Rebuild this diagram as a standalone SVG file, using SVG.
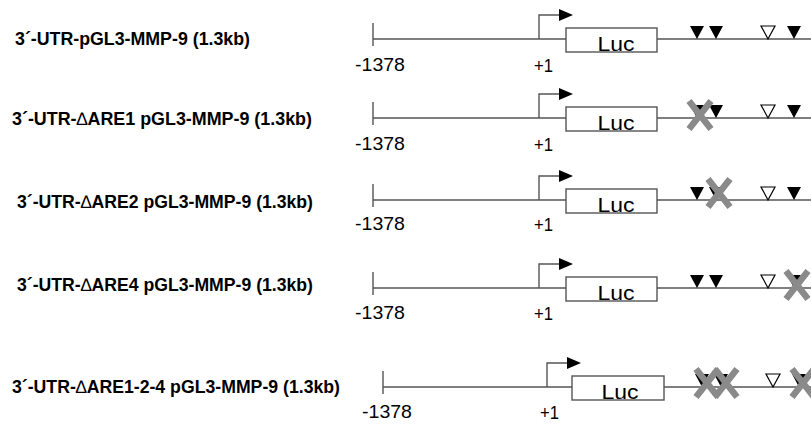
<svg xmlns="http://www.w3.org/2000/svg" width="811" height="424" viewBox="0 0 811 424">
<style>
.lbl{font-family:"Liberation Sans",Arial,sans-serif;font-weight:bold;font-size:18px;fill:#000}
.dl{font-weight:normal}
.num{font-family:"Liberation Sans",Arial,sans-serif;font-size:19px;fill:#000}
.luc{font-family:"Liberation Sans",Arial,sans-serif;font-size:20px;fill:#000;text-anchor:middle}
.ln{stroke:#555;stroke-width:1.4;fill:none}
.box{stroke:#555;stroke-width:1.4;fill:#fff}
.tf{fill:#000}
.to{fill:#fff;stroke:#000;stroke-width:1.2}
.x{stroke:#8a8a8a;stroke-width:6.5;fill:none}
</style>
<defs>
<path id="tri" d="M-7,-13 L7,-13 L0,0 Z"/>
<path id="xx" d="M-11,-14 L11,14 M11,-14 L-11,14"/>
</defs>
<rect width="811" height="424" fill="#fff"/>

<g id="construct1">
<text class="lbl" x="15" y="45" textLength="235" lengthAdjust="spacingAndGlyphs">3´-UTR-pGL3-MMP-9 (1.3kb)</text>
<path class="ln" d="M373,23 V46 M373,39 H811"/>
<path d="M539,39 V15 H560" class="ln"/><polygon points="559,9 573,15 559,21" fill="#000"/>
<rect class="box" x="566" y="28" width="91" height="24"/>
<text class="luc" x="616" y="51" textLength="37" lengthAdjust="spacingAndGlyphs">Luc</text>
<text class="num" x="355" y="71" textLength="50" lengthAdjust="spacingAndGlyphs">-1378</text>
<text class="num" x="534" y="72" textLength="19" lengthAdjust="spacingAndGlyphs">+1</text>
<use href="#tri" class="tf" x="697" y="39"/><use href="#tri" class="tf" x="716" y="39"/>
<use href="#tri" class="to" x="768" y="39"/><use href="#tri" class="tf" x="794" y="39"/>
</g>

<g id="construct2">
<text class="lbl" x="12" y="125" textLength="300" lengthAdjust="spacingAndGlyphs">3´-UTR-<tspan class="dl">∆</tspan>ARE1 pGL3-MMP-9 (1.3kb)</text>
<path class="ln" d="M373,102 V125 M373,118 H811"/>
<path d="M539,118 V94 H560" class="ln"/><polygon points="559,88 573,94 559,100" fill="#000"/>
<rect class="box" x="566" y="107" width="91" height="24"/>
<text class="luc" x="616" y="130" textLength="37" lengthAdjust="spacingAndGlyphs">Luc</text>
<text class="num" x="355" y="150" textLength="50" lengthAdjust="spacingAndGlyphs">-1378</text>
<text class="num" x="534" y="151" textLength="19" lengthAdjust="spacingAndGlyphs">+1</text>
<use href="#tri" class="tf" x="697" y="118"/><use href="#tri" class="tf" x="716" y="118"/>
<use href="#tri" class="to" x="768" y="118"/><use href="#tri" class="tf" x="794" y="118"/>
<use href="#xx" class="x" x="700" y="115"/>
</g>

<g id="construct3">
<text class="lbl" x="17" y="208" textLength="296" lengthAdjust="spacingAndGlyphs">3´-UTR-<tspan class="dl">∆</tspan>ARE2 pGL3-MMP-9 (1.3kb)</text>
<path class="ln" d="M373,184 V207 M373,200 H811"/>
<path d="M539,200 V176 H560" class="ln"/><polygon points="559,170 573,176 559,182" fill="#000"/>
<rect class="box" x="566" y="189" width="91" height="24"/>
<text class="luc" x="616" y="212" textLength="37" lengthAdjust="spacingAndGlyphs">Luc</text>
<text class="num" x="355" y="230" textLength="50" lengthAdjust="spacingAndGlyphs">-1378</text>
<text class="num" x="534" y="231" textLength="19" lengthAdjust="spacingAndGlyphs">+1</text>
<use href="#tri" class="tf" x="697" y="200"/><use href="#tri" class="tf" x="716" y="200"/>
<use href="#tri" class="to" x="768" y="200"/><use href="#tri" class="tf" x="794" y="200"/>
<use href="#xx" class="x" x="719" y="193"/>
</g>

<g id="construct4">
<text class="lbl" x="17" y="291" textLength="296" lengthAdjust="spacingAndGlyphs">3´-UTR-<tspan class="dl">∆</tspan>ARE4 pGL3-MMP-9 (1.3kb)</text>
<path class="ln" d="M373,272 V295 M373,288 H811"/>
<path d="M539,288 V264 H560" class="ln"/><polygon points="559,258 573,264 559,270" fill="#000"/>
<rect class="box" x="566" y="277" width="91" height="24"/>
<text class="luc" x="616" y="300" textLength="37" lengthAdjust="spacingAndGlyphs">Luc</text>
<text class="num" x="355" y="319" textLength="50" lengthAdjust="spacingAndGlyphs">-1378</text>
<text class="num" x="534" y="320" textLength="19" lengthAdjust="spacingAndGlyphs">+1</text>
<use href="#tri" class="tf" x="697" y="288"/><use href="#tri" class="tf" x="716" y="288"/>
<use href="#tri" class="to" x="768" y="288"/><use href="#tri" class="tf" x="794" y="288"/>
<use href="#xx" class="x" x="797" y="285"/>
</g>

<g id="construct5">
<text class="lbl" x="12" y="393" textLength="328" lengthAdjust="spacingAndGlyphs">3´-UTR-<tspan class="dl">∆</tspan>ARE1-2-4 pGL3-MMP-9 (1.3kb)</text>
<path class="ln" d="M383,371 V394 M383,387 H811"/>
<path d="M547,387 V363 H568" class="ln"/><polygon points="567,357 581,363 567,369" fill="#000"/>
<rect class="box" x="572" y="376" width="92" height="24"/>
<text class="luc" x="620" y="399" textLength="37" lengthAdjust="spacingAndGlyphs">Luc</text>
<text class="num" x="362" y="418" textLength="50" lengthAdjust="spacingAndGlyphs">-1378</text>
<text class="num" x="540" y="419" textLength="19" lengthAdjust="spacingAndGlyphs">+1</text>
<use href="#tri" class="tf" x="702" y="387"/><use href="#tri" class="tf" x="721" y="387"/>
<use href="#tri" class="to" x="773" y="387"/><use href="#tri" class="tf" x="799" y="387"/>
<use href="#xx" class="x" x="707" y="383"/><use href="#xx" class="x" x="726" y="383"/>
<use href="#xx" class="x" x="803" y="383"/>
</g>

<g id="connectors"></g>
</svg>
